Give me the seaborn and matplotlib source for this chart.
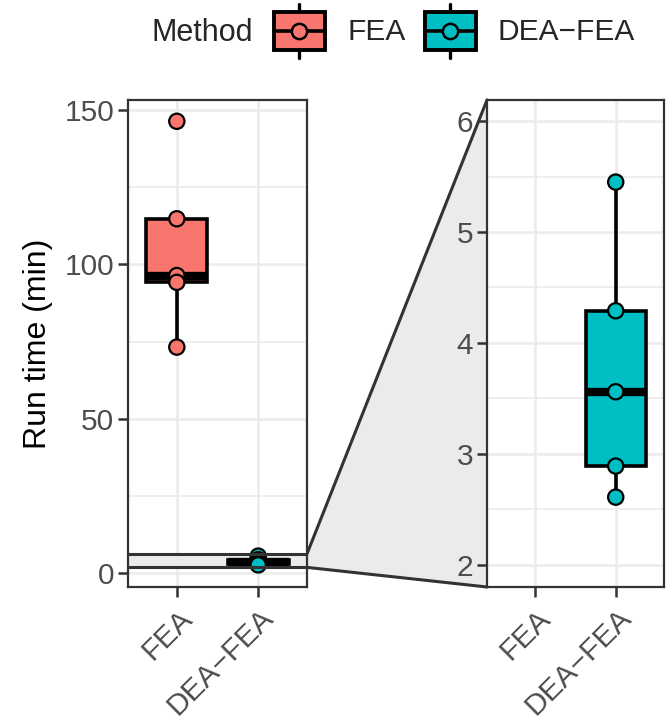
import matplotlib
matplotlib.use("Agg")
import matplotlib.pyplot as plt
import matplotlib.transforms as mtransforms
from matplotlib.patches import Polygon, Rectangle
from matplotlib.lines import Line2D
from matplotlib.legend_handler import HandlerBase
from matplotlib.ticker import MultipleLocator
import seaborn as sns
import pandas as pd

# values
methods = ["FEA", "DEA\u2212FEA"]
fea_runtime = [146.4, 114.8, 96.4, 94.2, 73.2]
dea_fea_runtime = [5.45, 4.29, 3.56, 2.89, 2.61]
colors = ["#F8766D", "#00BFC4"]
zoom_range = (1.80, 6.19)

df = pd.concat([
    pd.DataFrame({"Method": methods[0], "Run time": fea_runtime}),
    pd.DataFrame({"Method": methods[1], "Run time": dea_fea_runtime}),
])
df["Method"] = pd.Categorical(df["Method"], categories=methods, ordered=True)
palette = dict(zip(methods, colors))

sns.set_theme(style="white")
plt.rcParams["font.family"] = ["Liberation Sans", "DejaVu Sans"]

GRID = "#ebebeb"
BORDER = "#333333"

fig = plt.figure(figsize=(6.70, 7.21), dpi=100)
W, H = 670, 721
ax_l = fig.add_axes([128 / W, 1 - 587 / H, 179 / W, 487 / H])
ax_r = fig.add_axes([487 / W, 1 - 587 / H, 177 / W, 487 / H])


def draw_panel(ax, ylim, major, minor):
    ax.set_axisbelow(True)
    sns.boxplot(data=df, x="Method", y="Run time", hue="Method", palette=palette,
                order=methods, hue_order=methods, width=0.75, whis=1.5, saturation=1,
                showfliers=False, linecolor="black", linewidth=2.6,
                medianprops={"linewidth": 6}, capprops={"linewidth": 0},
                legend=False, ax=ax, zorder=3)
    sns.stripplot(data=df, x="Method", y="Run time", hue="Method", palette=palette,
                  order=methods, hue_order=methods, jitter=False, size=11,
                  edgecolor="black", linewidth=1.6, legend=False, ax=ax, zorder=4)
    ax.yaxis.set_major_locator(MultipleLocator(major))
    ax.yaxis.set_minor_locator(MultipleLocator(minor))
    ax.grid(True, which="major", axis="both", color=GRID, linewidth=1.8)
    ax.grid(True, which="minor", axis="y", color=GRID, linewidth=1.2)
    ax.set_xlim(-0.6, 1.6)
    ax.set_ylim(*ylim)
    ax.set_xlabel("")
    ax.set_ylabel("")
    for s in ax.spines.values():
        s.set_color(BORDER)
        s.set_linewidth(1.6)
    ax.tick_params(axis="both", which="major", length=7, width=1.8, color=BORDER,
                   labelcolor="#4d4d4d", labelsize=21.5, pad=3, left=True, bottom=True)
    ax.tick_params(axis="y", which="minor", length=0)
    ax.set_xticks(range(len(methods)))
    ax.set_xticklabels(methods, rotation=45, ha="right", va="top",
                       rotation_mode="anchor")
    offset = mtransforms.ScaledTranslation(1 / 100, -3 / 100, fig.dpi_scale_trans)
    for lab in ax.get_xticklabels():
        lab.set_transform(lab.get_transform() + offset)


draw_panel(ax_l, (-4.56, 153.3), 50, 25)
draw_panel(ax_r, zoom_range, 1, 0.5)
ax_l.set_ylabel("Run time (min)", fontsize=23, color="black", labelpad=8)

# zoom band on the left panel
ax_l.axhspan(*zoom_range, facecolor=GRID, edgecolor="none", zorder=1)
for yv in zoom_range:
    ax_l.axhline(yv, color=BORDER, linewidth=2.2, zorder=5)

# connector between the panels
fig.canvas.draw()
to_fig = fig.transFigure.inverted()
tl = mtransforms.blended_transform_factory(ax_l.transAxes, ax_l.transData)
tr = mtransforms.blended_transform_factory(ax_r.transAxes, ax_r.transData)
p1 = to_fig.transform(tl.transform((1, zoom_range[1])))
p2 = to_fig.transform(tr.transform((0, zoom_range[1])))
p3 = to_fig.transform(tr.transform((0, zoom_range[0])))
p4 = to_fig.transform(tl.transform((1, zoom_range[0])))
fig.patches.append(Polygon([p1, p2, p3, p4], closed=True, facecolor=GRID,
                           edgecolor="none", transform=fig.transFigure, zorder=-1))
for a, b in [(p1, p2), (p4, p3)]:
    fig.lines.append(Line2D([a[0], b[0]], [a[1], b[1]], color=BORDER, linewidth=2.2,
                            transform=fig.transFigure, zorder=-0.5))


class BoxKey(HandlerBase):
    def __init__(self, color):
        super().__init__()
        self.color = color

    def create_artists(self, legend, orig_handle, xdescent, ydescent, width, height,
                       fontsize, trans):
        x0, y0 = -xdescent, -ydescent
        cy = y0 + height / 2
        bh = height * 0.71
        cx = x0 + width / 2
        whisk = Line2D([cx, cx], [y0, y0 + height], color="black", linewidth=2.4,
                       transform=trans)
        box = Rectangle((x0, cy - bh / 2), width, bh, facecolor=self.color,
                        edgecolor="black", linewidth=2.8, transform=trans)
        med = Line2D([x0, x0 + width], [cy, cy], color="black", linewidth=2.6,
                     transform=trans)
        pt = Line2D([cx], [cy], marker="o", markersize=11, markerfacecolor=self.color,
                    markeredgecolor="black", markeredgewidth=1.8, transform=trans)
        return [whisk, box, med, pt]


handles = [Rectangle((0, 0), 1, 1) for _ in methods]
fig.text(152 / W, 1 - 33 / H, "Method", fontsize=22, ha="left", va="center")
leg = fig.legend(handles, methods, loc="center left", bbox_to_anchor=(274 / W, 1 - 31 / H),
                 ncol=2, frameon=False, fontsize=21.5, handlelength=1.7, handleheight=2.4,
                 handletextpad=0.75, columnspacing=0.65, borderpad=0, borderaxespad=0,
                 handler_map={h: BoxKey(c) for h, c in zip(handles, colors)})

fig.savefig("out.png", dpi=100)
